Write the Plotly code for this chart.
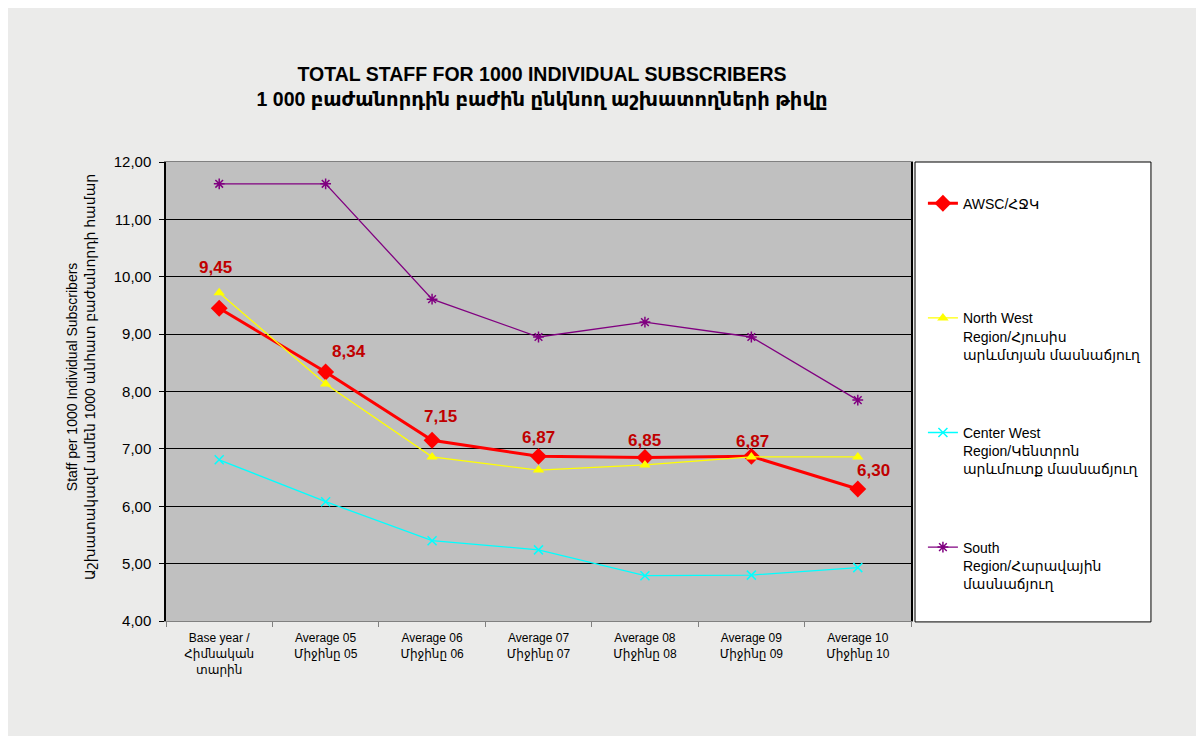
import plotly.graph_objects as go

# categories and series
categories = [
    "Base year /<br>Հիմնական<br>տարին",
    "Average 05<br>Միջինը 05",
    "Average 06<br>Միջինը 06",
    "Average 07<br>Միջինը 07",
    "Average 08<br>Միջինը 08",
    "Average 09<br>Միջինը 09",
    "Average 10<br>Միջինը 10",
]
awsc = [9.45, 8.34, 7.15, 6.87, 6.85, 6.87, 6.30]
north_west = [9.72, 8.13, 6.86, 6.63, 6.72, 6.86, 6.86]
center_west = [6.81, 6.08, 5.40, 5.24, 4.79, 4.80, 4.93]
south = [11.62, 11.62, 9.61, 8.95, 9.21, 8.95, 7.85]

series_names = [
    "AWSC/ՀՋԿ<br> <br> ",
    "North West<br>Region/Հյուսիս<br>արևմտյան մասնաճյուղ",
    "Center West<br>Region/Կենտրոն<br>արևմուտք մասնաճյուղ",
    "South<br>Region/Հարավային<br>մասնաճյուղ",
]

# pixel offsets of the AWSC value labels (dx, dy)
label_shift = [(-4, 41), (23, 20), (8, 24), (0, 19), (0, 17), (1, 15), (16, 19)]

FONT = "Arial, Liberation Sans, DejaVu Sans, sans-serif"

fig = go.Figure()

fig.add_trace(go.Scatter(
    x=categories, y=awsc, name=series_names[0], mode="lines+markers",
    line=dict(color="#ff0000", width=3),
    marker=dict(symbol="diamond", size=13, color="#ff0000"),
    legendgroup="a",
))
fig.add_trace(go.Scatter(
    x=categories, y=north_west, name=series_names[1], mode="lines+markers",
    line=dict(color="#ffff00", width=1.3),
    marker=dict(symbol="triangle-up", size=10, color="#ffff00"),
    legendgroup="b",
))
fig.add_trace(go.Scatter(
    x=categories, y=center_west, name=series_names[2], mode="lines+markers",
    line=dict(color="#00ffff", width=1.3),
    marker=dict(symbol="x-thin-open", size=9, color="#00ffff",
                line=dict(color="#00ffff", width=1.5)),
    legendgroup="c",
))
fig.add_trace(go.Scatter(
    x=categories, y=south, name=series_names[3], mode="lines+markers",
    line=dict(color="#800080", width=1.3),
    marker=dict(symbol="asterisk-open", size=9, color="#800080",
                line=dict(color="#800080", width=1.5)),
    legendgroup="d",
))

# value labels for AWSC
for cat, val, (dx, dy) in zip(categories, awsc, label_shift):
    fig.add_annotation(
        x=cat, y=val, text=f"{val:.2f}".replace(".", ","),
        showarrow=False, xshift=dx, yshift=dy,
        font=dict(family=FONT, size=17, color="#c00000", weight="bold"),
    )

# y axis title (placed slightly above the plot centre, as in the original)
fig.add_annotation(
    xref="paper", yref="paper", x=-0.1141, y=0.5316,
    xanchor="center", yanchor="middle", textangle=-90, showarrow=False,
    text="Staff per 1000 Individual Subscribers<br>"
         "Աշխատակազմ ամեն 1000 անհատ բաժանորդի համար",
    font=dict(family=FONT, size=14, color="black"),
)

# white legend box
fig.add_shape(type="rect", xref="paper", yref="paper",
              x0=1.0054, x1=1.3221, y0=-0.002, y1=1.0,
              fillcolor="white", line=dict(color="black", width=1), layer="below")

fig.update_layout(
    width=1196, height=728,
    margin=dict(l=158, r=293, t=154, b=115),
    paper_bgcolor="#ebebea",
    plot_bgcolor="#c0c0c0",
    separators=", ",
    font=dict(family=FONT, color="black"),
    title=dict(
        text="<b>TOTAL STAFF FOR 1000 INDIVIDUAL SUBSCRIBERS<br>"
             "1 000 բաժանորդին բաժին ընկնող աշխատողների թիվը</b>",
        x=0.5047, xref="paper", xanchor="center",
        y=0.9004, yanchor="middle",
        font=dict(family=FONT, size=19.5, color="black"),
    ),
    showlegend=True,
    legend=dict(
        x=1.016, xanchor="left", y=0.944, yanchor="top",
        bgcolor="rgba(0,0,0,0)", borderwidth=0,
        font=dict(family=FONT, size=14, color="black"),
        traceorder="grouped", tracegroupgap=57, valign="top",
        itemwidth=30,
    ),
    xaxis=dict(
        type="category", range=[-0.5, 6.5],
        showline=True, linecolor="#808080", linewidth=1, mirror=True,
        ticks="outside", tickson="boundaries", ticklen=5, tickcolor="#808080",
        showgrid=False, ticklabelstandoff=6,
        tickfont=dict(family=FONT, size=12, color="black"),
    ),
    yaxis=dict(
        range=[4, 12], dtick=1, tickformat=".2f",
        showline=True, linecolor="black", linewidth=1.5, mirror=True,
        ticks="outside", ticklen=5, tickcolor="black",
        gridcolor="black", gridwidth=1, ticklabelstandoff=5,
        tickfont=dict(family=FONT, size=15, color="black"),
    ),
)

fig.write_html("out.html")
